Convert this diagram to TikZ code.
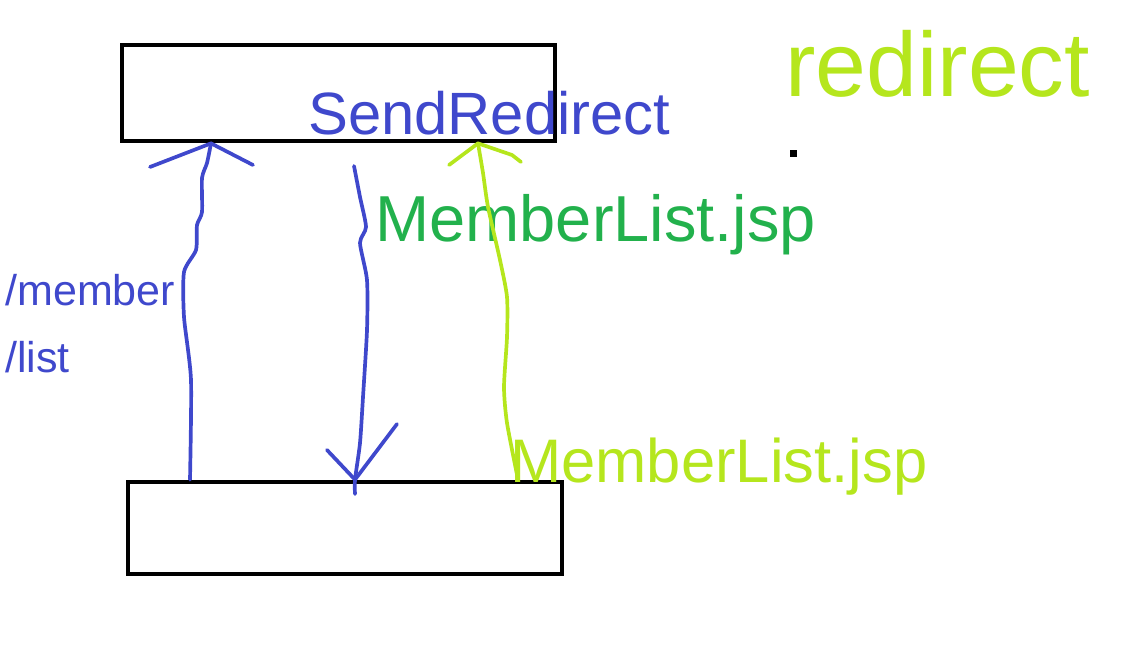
\documentclass[tikz,border=0pt]{standalone}
\usepackage{fontspec}
\setmainfont{Liberation Sans}
\definecolor{penblue}{HTML}{3F48CC}
\definecolor{pengreen}{HTML}{22B14C}
\definecolor{penlime}{HTML}{B5E61D}
\begin{document}
\begin{tikzpicture}[x=0.02cm, y=0.02cm]
\tikzstyle{every node}+=[inner sep=0pt]
\tikzstyle{box}=[draw=black, line width=2.7pt]
\tikzstyle{pen}=[line width=2.1pt, line cap=round, line join=round]
\useasboundingbox (0,0) rectangle (1141,-648);
% the two boxes
\node [box, minimum width=8.66cm, minimum height=1.92cm] (upper) at (338.5,-93) {};
\node [box, minimum width=8.68cm, minimum height=1.84cm] (lower) at (345,-528) {};
% blue: request up, /member/list
\coordinate (b1) at (190,0);
\coordinate (b2) at (211,0);
\draw [pen, penblue] plot [smooth, tension=0.4] coordinates {(b1 |- lower.north) (191,-380) (184,-317) (184,-272) (196,-250) (197,-225) (202,-212) (202,-178) (207,-163) (b2 |- upper.south)};
\draw [pen, penblue] (150,-167) -- (b2 |- upper.south) -- (253,-165);
\node [penblue, anchor=base west, align=left, font=\fontsize{24.5}{38}\selectfont] (path) at (5,-372) {/member\\/list};
% blue: answer down, SendRedirect
\coordinate (b4) at (355,0);
\draw [pen, penblue] plot [smooth, tension=0.4] coordinates {(354,-166) (360,-197) (366,-227) (360,-243) (367,-280) (367,-330) (363,-397) (360,-443) (b4 |- lower.north) (355,-494)};
\draw [pen, penblue] (327,-450) -- (b4 |- lower.north) -- (397,-424);
\node [penblue, anchor=base west, font=\fontsize{34}{40}\selectfont] (send) at (308,-135) {SendRedirect};
\node [pengreen, anchor=base west, font=\fontsize{37}{44}\selectfont] (target) at (375,-242) {MemberList.jsp};
% lime: new request up
\coordinate (l1) at (518,0);
\coordinate (l2) at (478,0);
\draw [pen, penlime] plot [smooth, tension=0.4] coordinates {(l1 |- lower.north) (507,-423) (504,-387) (507,-337) (507,-297) (500,-260) (488,-207) (483,-173) (l2 |- upper.south)};
\draw [pen, penlime] (449,-165) -- (l2 |- upper.south) -- (512,-155) -- (521,-162);
\node [penlime, anchor=base west, font=\fontsize{35}{42}\selectfont] (request) at (510,-482) {MemberList.jsp};
\node [penlime, anchor=base west, font=\fontsize{52}{60}\selectfont] (title) at (785,-97) {redirect};
\fill [black] (790,-150) rectangle (797,-157);
\end{tikzpicture}
\end{document}
